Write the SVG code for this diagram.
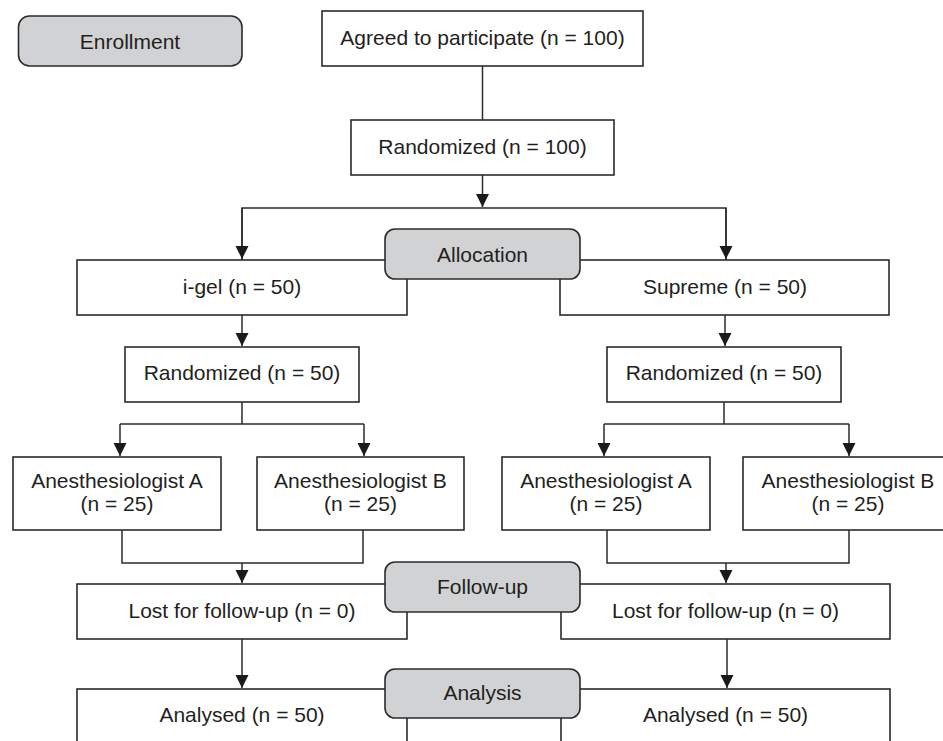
<svg xmlns="http://www.w3.org/2000/svg" width="943" height="741" viewBox="0 0 943 741">
<style>
  .box { fill: #ffffff; stroke: #2b2b2b; stroke-width: 1.6; }
  .stage { fill: #d1d2d4; stroke: #2b2b2b; stroke-width: 1.6; }
  .lbl { font-family: "Liberation Sans", Arial, sans-serif; font-size: 21px; fill: #231f20; text-anchor: middle; }
  .con { fill: none; stroke: #2b2b2b; stroke-width: 1.5; }
</style>
<defs>
  <marker id="arr" markerUnits="userSpaceOnUse" markerWidth="14" markerHeight="14" viewBox="0 -7 14 14" refX="13" refY="0" orient="auto">
    <path d="M0,-6.5 L13,0 L0,6.5 z" fill="#1a1a1a"/>
  </marker>
</defs>
<rect width="943" height="741" fill="#ffffff"/>

<g id="connectors">
  <path class="con" d="M482.5,66 V120"/>
  <path class="con" d="M482.5,175 V207" marker-end="url(#arr)"/>
  <path class="con" d="M242,260 V208 H726 V260" />
  <path class="con" d="M242,208 V259" marker-end="url(#arr)"/>
  <path class="con" d="M726,208 V259" marker-end="url(#arr)"/>
  <path class="con" d="M242,315 V346" marker-end="url(#arr)"/>
  <path class="con" d="M725,315 V346" marker-end="url(#arr)"/>
  <path class="con" d="M242,402 V424 M120,424 H364"/>
  <path class="con" d="M120,424 V456" marker-end="url(#arr)"/>
  <path class="con" d="M364,424 V456" marker-end="url(#arr)"/>
  <path class="con" d="M724,402 V424 M604,424 H849"/>
  <path class="con" d="M604,424 V456" marker-end="url(#arr)"/>
  <path class="con" d="M849,424 V456" marker-end="url(#arr)"/>
  <path class="con" d="M122,530 V563 H363 V530"/>
  <path class="con" d="M242,563 V583" marker-end="url(#arr)"/>
  <path class="con" d="M607,530 V563 H849 V530"/>
  <path class="con" d="M726,563 V583" marker-end="url(#arr)"/>
  <path class="con" d="M242,639 V688" marker-end="url(#arr)"/>
  <path class="con" d="M727,639 V688" marker-end="url(#arr)"/>
</g>

<g id="enrollment">
  <rect class="stage" x="18.5" y="16" width="223.5" height="50" rx="11"/>
  <text class="lbl" x="130" y="49">Enrollment</text>
</g>
<g id="agreed">
  <rect class="box" x="322" y="11" width="321" height="55"/>
  <text class="lbl" x="482.5" y="45">Agreed to participate (n = 100)</text>
</g>
<g id="randomized100">
  <rect class="box" x="351" y="120" width="263" height="55"/>
  <text class="lbl" x="482.5" y="154">Randomized (n = 100)</text>
</g>

<g id="igel">
  <rect class="box" x="77" y="260" width="330" height="55"/>
  <text class="lbl" x="242" y="294">i-gel (n = 50)</text>
</g>
<g id="supreme">
  <rect class="box" x="560" y="260" width="329" height="55"/>
  <text class="lbl" x="725" y="294">Supreme (n = 50)</text>
</g>
<g id="allocation">
  <rect class="stage" x="385" y="229" width="195" height="50" rx="10"/>
  <text class="lbl" x="482.5" y="262">Allocation</text>
</g>

<g id="randomized50-left">
  <rect class="box" x="125" y="347" width="234" height="55"/>
  <text class="lbl" x="242" y="380">Randomized (n = 50)</text>
</g>
<g id="randomized50-right">
  <rect class="box" x="607" y="347" width="234" height="55"/>
  <text class="lbl" x="724" y="380">Randomized (n = 50)</text>
</g>

<g id="igel-anesA">
  <rect class="box" x="13" y="457" width="208" height="73"/>
  <text class="lbl" x="117" y="488">Anesthesiologist A</text>
  <text class="lbl" x="117" y="511">(n = 25)</text>
</g>
<g id="igel-anesB">
  <rect class="box" x="257" y="457" width="207" height="73"/>
  <text class="lbl" x="360.5" y="488">Anesthesiologist B</text>
  <text class="lbl" x="360.5" y="511">(n = 25)</text>
</g>
<g id="supreme-anesA">
  <rect class="box" x="502" y="457" width="208" height="73"/>
  <text class="lbl" x="606" y="488">Anesthesiologist A</text>
  <text class="lbl" x="606" y="511">(n = 25)</text>
</g>
<g id="supreme-anesB">
  <rect class="box" x="743" y="457" width="210" height="73"/>
  <text class="lbl" x="848" y="488">Anesthesiologist B</text>
  <text class="lbl" x="848" y="511">(n = 25)</text>
</g>

<g id="lost-left">
  <rect class="box" x="77" y="584" width="330" height="55"/>
  <text class="lbl" x="242" y="618">Lost for follow-up (n = 0)</text>
</g>
<g id="lost-right">
  <rect class="box" x="561" y="584" width="329" height="55"/>
  <text class="lbl" x="725.5" y="618">Lost for follow-up (n = 0)</text>
</g>
<g id="followup">
  <rect class="stage" x="385" y="562" width="195" height="50" rx="10"/>
  <text class="lbl" x="482.5" y="594">Follow-up</text>
</g>

<g id="analysed-left">
  <rect class="box" x="77" y="689" width="330" height="60"/>
  <text class="lbl" x="242" y="722">Analysed (n = 50)</text>
</g>
<g id="analysed-right">
  <rect class="box" x="561" y="689" width="329" height="60"/>
  <text class="lbl" x="725.5" y="722">Analysed (n = 50)</text>
</g>
<g id="analysis">
  <rect class="stage" x="385" y="669" width="195" height="49" rx="10"/>
  <text class="lbl" x="482.5" y="700">Analysis</text>
</g>
</svg>
